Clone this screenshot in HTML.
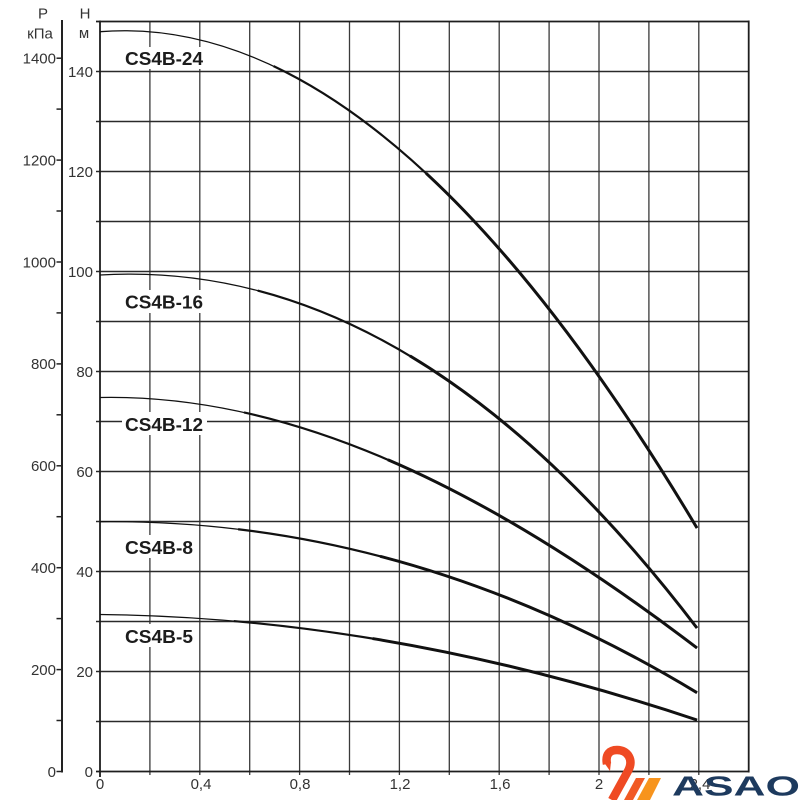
<!DOCTYPE html>
<html>
<head>
<meta charset="utf-8">
<style>
  html,body{margin:0;padding:0;background:#fff;}
  svg{display:block;}
  text{font-family:"Liberation Sans",Arial,sans-serif;}
</style>
</head>
<body>
<svg width="800" height="800" viewBox="0 0 800 800" xmlns="http://www.w3.org/2000/svg">
  <rect x="0" y="0" width="800" height="800" fill="#fff"/>

  <!-- vertical gridlines -->
  <g stroke="#3a3a3a" stroke-width="1.3">
    <line x1="149.9" y1="21.5" x2="149.9" y2="775"/>
    <line x1="199.8" y1="21.5" x2="199.8" y2="775"/>
    <line x1="249.7" y1="21.5" x2="249.7" y2="775"/>
    <line x1="299.6" y1="21.5" x2="299.6" y2="775"/>
    <line x1="349.5" y1="21.5" x2="349.5" y2="775"/>
    <line x1="399.4" y1="21.5" x2="399.4" y2="775"/>
    <line x1="449.3" y1="21.5" x2="449.3" y2="775"/>
    <line x1="499.2" y1="21.5" x2="499.2" y2="775"/>
    <line x1="549.1" y1="21.5" x2="549.1" y2="775"/>
    <line x1="599" y1="21.5" x2="599" y2="775"/>
    <line x1="648.9" y1="21.5" x2="648.9" y2="775"/>
    <line x1="698.8" y1="21.5" x2="698.8" y2="775"/>
  </g>
  <!-- horizontal gridlines -->
  <g stroke="#2a2a2a" stroke-width="1.6">
    <line x1="96" y1="71.5" x2="749" y2="71.5"/>
    <line x1="96" y1="121.5" x2="749" y2="121.5"/>
    <line x1="96" y1="171.5" x2="749" y2="171.5"/>
    <line x1="96" y1="221.5" x2="749" y2="221.5"/>
    <line x1="96" y1="271.5" x2="749" y2="271.5"/>
    <line x1="96" y1="321.5" x2="749" y2="321.5"/>
    <line x1="96" y1="371.5" x2="749" y2="371.5"/>
    <line x1="96" y1="421.5" x2="749" y2="421.5"/>
    <line x1="96" y1="471.5" x2="749" y2="471.5"/>
    <line x1="96" y1="521.5" x2="749" y2="521.5"/>
    <line x1="96" y1="571.5" x2="749" y2="571.5"/>
    <line x1="96" y1="621.5" x2="749" y2="621.5"/>
    <line x1="96" y1="671.5" x2="749" y2="671.5"/>
    <line x1="96" y1="721.5" x2="749" y2="721.5"/>
  </g>
  <!-- borders -->
  <g stroke="#1e1e1e" stroke-width="1.8" fill="none">
    <line x1="100" y1="20.5" x2="100" y2="777"/>
    <line x1="748.7" y1="20.5" x2="748.7" y2="772.5"/>
    <line x1="96" y1="21.5" x2="749.5" y2="21.5"/>
    <line x1="96" y1="771.5" x2="749.5" y2="771.5"/>
  </g>

  <!-- P axis -->
  <line x1="62" y1="20" x2="62" y2="772.5" stroke="#222" stroke-width="2"/>
  <g stroke="#222" stroke-width="1.5">
    <line x1="56.5" y1="771.5" x2="62" y2="771.5"/>
    <line x1="56.5" y1="720.5" x2="62" y2="720.5"/>
    <line x1="56.5" y1="669.6" x2="62" y2="669.6"/>
    <line x1="56.5" y1="618.6" x2="62" y2="618.6"/>
    <line x1="56.5" y1="567.7" x2="62" y2="567.7"/>
    <line x1="56.5" y1="516.7" x2="62" y2="516.7"/>
    <line x1="56.5" y1="465.8" x2="62" y2="465.8"/>
    <line x1="56.5" y1="414.8" x2="62" y2="414.8"/>
    <line x1="56.5" y1="363.9" x2="62" y2="363.9"/>
    <line x1="56.5" y1="312.9" x2="62" y2="312.9"/>
    <line x1="56.5" y1="262" x2="62" y2="262"/>
    <line x1="56.5" y1="211" x2="62" y2="211"/>
    <line x1="56.5" y1="160.1" x2="62" y2="160.1"/>
    <line x1="56.5" y1="109.1" x2="62" y2="109.1"/>
    <line x1="56.5" y1="58.2" x2="62" y2="58.2"/>
  </g>
  <g font-size="15" fill="#333" text-anchor="end">
    <text x="56" y="776.8">0</text>
    <text x="56" y="674.9">200</text>
    <text x="56" y="573">400</text>
    <text x="56" y="471.1">600</text>
    <text x="56" y="369.2">800</text>
    <text x="56" y="267.3">1000</text>
    <text x="56" y="165.4">1200</text>
    <text x="56" y="63.5">1400</text>
  </g>
  <!-- H axis labels -->
  <g font-size="15" fill="#333" text-anchor="end">
    <text x="93" y="776.8">0</text>
    <text x="93" y="676.8">20</text>
    <text x="93" y="576.8">40</text>
    <text x="93" y="476.8">60</text>
    <text x="93" y="376.8">80</text>
    <text x="93" y="276.8">100</text>
    <text x="93" y="176.8">120</text>
    <text x="93" y="76.8">140</text>
  </g>
  <!-- axis titles -->
  <text x="43" y="18.5" font-size="15" fill="#333" text-anchor="middle">P</text>
  <text x="40" y="38.5" font-size="15" fill="#333" text-anchor="middle">кПа</text>
  <text x="85" y="18.5" font-size="15" fill="#333" text-anchor="middle">H</text>
  <text x="84" y="38" font-size="15" fill="#333" text-anchor="middle">м</text>

  <!-- x axis labels -->
  <g font-size="15" fill="#333" text-anchor="middle">
    <text x="100" y="789">0</text>
    <text x="201" y="789">0,4</text>
    <text x="300" y="789">0,8</text>
    <text x="400" y="789">1,2</text>
    <text x="500" y="789">1,6</text>
    <text x="599" y="789">2</text>
    <text x="700" y="789">2,4</text>
  </g>

  <!-- curve labels with white background -->
  <g fill="#fff">
    <rect x="122" y="47" width="85" height="22"/>
    <rect x="122" y="290" width="85" height="23"/>
    <rect x="122" y="412" width="85" height="23"/>
    <rect x="122" y="535" width="75" height="23"/>
    <rect x="122" y="624" width="75" height="23"/>
  </g>
  <g font-size="18" font-weight="bold" fill="#1c1c1c">
    <text x="125" y="65" textLength="78" lengthAdjust="spacingAndGlyphs">CS4B-24</text>
    <text x="125" y="308.5" textLength="78" lengthAdjust="spacingAndGlyphs">CS4B-16</text>
    <text x="125" y="431" textLength="78" lengthAdjust="spacingAndGlyphs">CS4B-12</text>
    <text x="125" y="554" textLength="68" lengthAdjust="spacingAndGlyphs">CS4B-8</text>
    <text x="125" y="643" textLength="68" lengthAdjust="spacingAndGlyphs">CS4B-5</text>
  </g>

  <!-- curves: thin full layer + thicker later layers -->
  <defs>
    <path id="c24" d="M100 31.7 C299 15.8 498 194.3 697 528"/>
    <path id="c16" d="M100 275 C299 263.1 498 367 697 628"/>
    <path id="c12" d="M100 397.5 C299 393.5 498 496.2 697 648"/>
    <path id="c8"  d="M100 521.7 C299 519.7 498 572.2 697 692.7"/>
    <path id="c5"  d="M100 614.5 C299 616.5 498 653.4 697 720"/>
  </defs>
  <g fill="none" stroke="#111">
    <g stroke-width="1.3">
      <use href="#c24"/><use href="#c16"/><use href="#c12"/><use href="#c8"/><use href="#c5"/>
    </g>
    <g stroke-width="2.2">
      <path d="M100 31.7 C299 15.8 498 194.3 697 528" pathLength="100" stroke-dasharray="0 22 78 0"/>
      <path d="M100 275 C299 263.1 498 367 697 628" pathLength="100" stroke-dasharray="0 22 78 0"/>
      <path d="M100 397.5 C299 393.5 498 496.2 697 648" pathLength="100" stroke-dasharray="0 22 78 0"/>
      <path d="M100 521.7 C299 519.7 498 572.2 697 692.7" pathLength="100" stroke-dasharray="0 22 78 0"/>
      <path d="M100 614.5 C299 616.5 498 653.4 697 720" pathLength="100" stroke-dasharray="0 22 78 0"/>
    </g>
    <g stroke-width="3">
      <path d="M100 31.7 C299 15.8 498 194.3 697 528" pathLength="100" stroke-dasharray="0 45 55 0"/>
      <path d="M100 275 C299 263.1 498 367 697 628" pathLength="100" stroke-dasharray="0 45 55 0"/>
      <path d="M100 397.5 C299 393.5 498 496.2 697 648" pathLength="100" stroke-dasharray="0 45 55 0"/>
      <path d="M100 521.7 C299 519.7 498 572.2 697 692.7" pathLength="100" stroke-dasharray="0 45 55 0"/>
      <path d="M100 614.5 C299 616.5 498 653.4 697 720" pathLength="100" stroke-dasharray="0 45 55 0"/>
    </g>
  </g>

  <!-- logo -->
  <path d="M607 764 C605 754 610 750 617 750 C628 750 634 760 628 771 L612 800" fill="none" stroke="#ef4a23" stroke-width="8.5"/>
  <polygon points="603,761 611,762 610,771" fill="#ef4a23"/>
  <polygon points="636,778 645,778 633,800 624,800" fill="#f15a24"/>
  <polygon points="649,778 661,778 650,800 637,800" fill="#f7941d"/>
  <text x="672" y="795.5" font-size="28" font-weight="bold" fill="#1d3a5e" textLength="128" lengthAdjust="spacingAndGlyphs">ASAO</text>
</svg>
</body>
</html>
